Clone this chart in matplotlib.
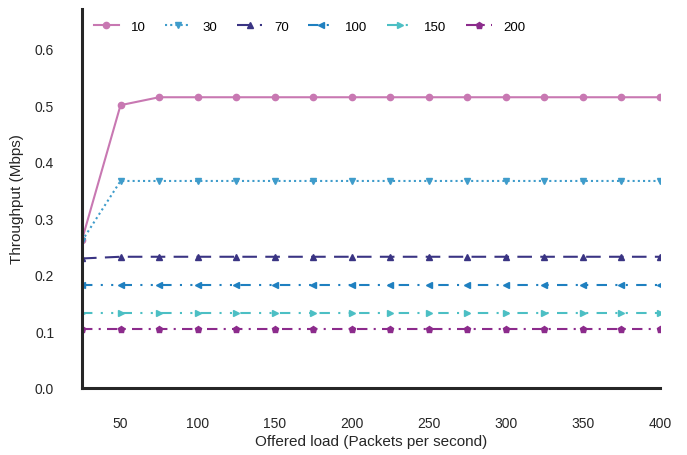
import matplotlib
matplotlib.use("Agg")
import matplotlib.pyplot as plt
import numpy as np

plt.rcParams['font.family'] = ['Liberation Sans', 'DejaVu Sans']

offered_load = [25, 50, 75, 100, 125, 150, 175, 200, 225, 250, 275, 300, 325, 350, 375, 400]
series_names = ["10", "30", "70", "100", "150", "200"]
thr_10 = [0.262, 0.500, 0.514, 0.514, 0.514, 0.514, 0.514, 0.514, 0.514, 0.514, 0.514, 0.514, 0.514, 0.514, 0.514, 0.514]
thr_30 = [0.260, 0.366, 0.366, 0.366, 0.366, 0.366, 0.366, 0.366, 0.366, 0.366, 0.366, 0.366, 0.366, 0.366, 0.366, 0.366]
thr_70 = [0.229, 0.232, 0.232, 0.232, 0.232, 0.232, 0.232, 0.232, 0.232, 0.232, 0.232, 0.232, 0.232, 0.232, 0.232, 0.232]
thr_100 = [0.182, 0.182, 0.182, 0.182, 0.182, 0.182, 0.182, 0.182, 0.182, 0.182, 0.182, 0.182, 0.182, 0.182, 0.182, 0.182]
thr_150 = [0.133, 0.133, 0.133, 0.133, 0.133, 0.133, 0.133, 0.133, 0.133, 0.133, 0.133, 0.133, 0.133, 0.133, 0.133, 0.133]
thr_200 = [0.105, 0.105, 0.105, 0.105, 0.105, 0.105, 0.105, 0.105, 0.105, 0.105, 0.105, 0.105, 0.105, 0.105, 0.105, 0.105]

series = [thr_10, thr_30, thr_70, thr_100, thr_150, thr_200]
colors = ["#c878b2", "#3f9ccb", "#3a3483", "#1f80c0", "#4cbfc4", "#8c2b8c"]
markers = ["o", "v", "^", "<", ">", "p"]
styles = ["-", (0, (1, 1.5)), (0, (7, 4)), (0, (5, 4, 1, 4, 1, 4)),
          (0, (5, 4, 1, 4, 1, 4)), (0, (5, 3, 1, 3))]

fig = plt.figure(figsize=(6.87, 4.56), dpi=100)
ax = fig.add_axes([82 / 687, 1 - 389 / 456, (660 - 82) / 687, (389 - 10) / 456])

for name, ys, c, m, ls in zip(series_names, series, colors, markers, styles):
    ax.plot(offered_load, ys, color=c, marker=m, markersize=4.5, linestyle=ls,
            linewidth=1.5, label=name)

ax.set_xlim(25, 400)
ax.set_ylim(0, 0.67)
ax.set_xticks([50, 100, 150, 200, 250, 300, 350, 400])
ax.set_yticks([0.0, 0.1, 0.2, 0.3, 0.4, 0.5, 0.6])
ax.set_yticklabels([f"{v:.1f}" for v in ax.get_yticks()])
ax.tick_params(axis='x', length=0, pad=20, labelsize=10, colors="#262626")
ax.tick_params(axis='y', length=0, pad=20, labelsize=10, colors="#262626")
for side in ("top", "right"):
    ax.spines[side].set_visible(False)
for side in ("left", "bottom"):
    ax.spines[side].set_linewidth(2.2)
    ax.spines[side].set_color("#262626")

ax.set_xlabel("Offered load (Packets per second)", fontsize=11, color="#262626", labelpad=3)
ax.set_ylabel("Throughput (Mbps)", fontsize=11, color="#262626", labelpad=8)

ax.legend(loc="upper left", ncol=6, frameon=False, fontsize=9.5, handlelength=1.9,
          handletextpad=0.9, columnspacing=1.5, bbox_to_anchor=(0.0, 1.0))

fig.savefig("out.png", dpi=100)
